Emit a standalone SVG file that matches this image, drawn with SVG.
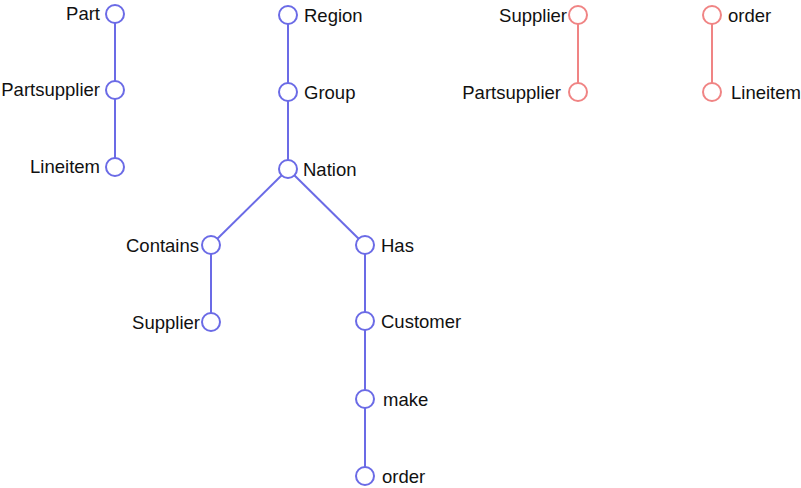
<svg xmlns="http://www.w3.org/2000/svg" width="801" height="488" viewBox="0 0 801 488">
<style>
.b{stroke:#6b6be6;stroke-width:2;fill:none}
.r{stroke:#f08484;stroke-width:2;fill:none}
circle.b,circle.r{fill:#fff}
text{font-family:"Liberation Sans",Arial,sans-serif;font-size:18.5px;fill:#111}
.e{text-anchor:end}
</style>
<rect width="801" height="488" fill="#fff"/>
<g id="connectors">
<line class="b" x1="115" y1="14" x2="115" y2="167"/>
<line class="b" x1="288" y1="15" x2="288" y2="169"/>
<line class="b" x1="288" y1="169" x2="211" y2="245"/>
<line class="b" x1="288" y1="169" x2="365" y2="245"/>
<line class="b" x1="211" y1="245" x2="211" y2="322"/>
<line class="b" x1="365" y1="245" x2="365" y2="476"/>
<line class="r" x1="578" y1="15" x2="578" y2="92"/>
<line class="r" x1="712" y1="15" x2="712" y2="92"/>
</g>
<g id="part"><circle class="b" cx="115" cy="14" r="9"/><text class="e" x="100" y="20">Part</text></g>
<g id="partsupplier"><circle class="b" cx="115" cy="90" r="9"/><text class="e" x="100" y="96">Partsupplier</text></g>
<g id="lineitem"><circle class="b" cx="115" cy="167" r="9"/><text class="e" x="100" y="173">Lineitem</text></g>
<g id="region"><circle class="b" cx="288" cy="15" r="9"/><text x="304" y="22">Region</text></g>
<g id="group"><circle class="b" cx="288" cy="92" r="9"/><text x="304" y="99">Group</text></g>
<g id="nation"><circle class="b" cx="288" cy="169" r="9"/><text x="303" y="176">Nation</text></g>
<g id="contains"><circle class="b" cx="211" cy="245" r="9"/><text class="e" x="199" y="252">Contains</text></g>
<g id="supplier"><circle class="b" cx="211" cy="322" r="9"/><text class="e" x="200" y="329">Supplier</text></g>
<g id="has"><circle class="b" cx="365" cy="245" r="9"/><text x="381" y="252">Has</text></g>
<g id="customer"><circle class="b" cx="365" cy="321" r="9"/><text x="381" y="328">Customer</text></g>
<g id="make"><circle class="b" cx="365" cy="399" r="9"/><text x="383" y="406">make</text></g>
<g id="order"><circle class="b" cx="365" cy="476" r="9"/><text x="382" y="483">order</text></g>
<g id="supplier2"><circle class="r" cx="578" cy="15" r="9"/><text class="e" x="567" y="22">Supplier</text></g>
<g id="partsupplier2"><circle class="r" cx="578" cy="92" r="9"/><text class="e" x="561" y="99">Partsupplier</text></g>
<g id="order2"><circle class="r" cx="712" cy="15" r="9"/><text x="728" y="22">order</text></g>
<g id="lineitem2"><circle class="r" cx="712" cy="92" r="9"/><text x="731" y="99">Lineitem</text></g>
</svg>
